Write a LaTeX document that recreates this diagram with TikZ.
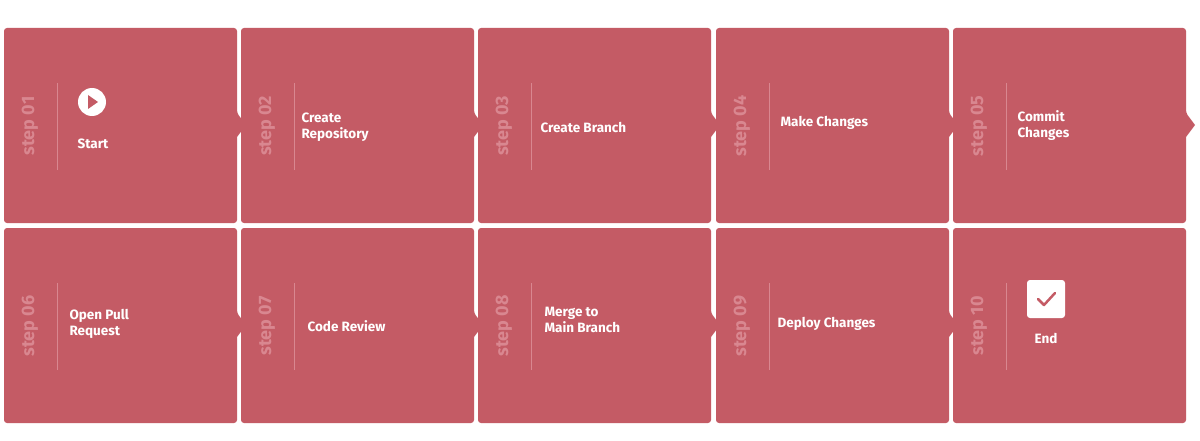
\documentclass[tikz,border=0pt]{standalone}
\usepackage{fontspec}
\setmainfont{Fira Sans}
\definecolor{boxc}{HTML}{C45B65}
\definecolor{stepc}{HTML}{D98790}
\tikzset{x=1pt,y=-1pt,
 lbl/.style={text=white,font=\bfseries\fontsize{13.5}{16}\selectfont,anchor=west,align=left},
 steplbl/.style={text=stepc,font=\bfseries\fontsize{18}{18}\selectfont,rotate=90},
 divl/.style={draw=stepc,line width=1pt}}
\newcommand{\stepbox}[5]{% left, top, notch(1/0), step, name
 \fill[boxc,rounded corners=3pt] (#1,#2) -- (#1+233,#2) -- (#1+233,#2+85)
  \ifnum#3=1 [rounded corners=0pt] -- (#1+242,#2+97) -- (#1+233,#2+109) [rounded corners=3pt]\fi
  -- (#1+233,#2+195) -- (#1,#2+195) -- cycle;
 \node[steplbl] (s#5) at (#1+26,#2+98) {step #4};
 \draw[divl] (#1+53,#2+55) -- (#1+53,#2+142);
}
\begin{document}
\begin{tikzpicture}
\useasboundingbox (0,0) rectangle (1200,441);
\fill[white] (0,0) rectangle (1200,441);
\stepbox{4}{28}{1}{01}{a}
\stepbox{241}{28}{1}{02}{b}
\stepbox{478}{28}{1}{03}{c}
\stepbox{716}{28}{1}{04}{d}
\stepbox{953}{28}{1}{05}{e}
\stepbox{4}{228}{1}{06}{f}
\stepbox{241}{228}{1}{07}{g}
\stepbox{478}{228}{1}{08}{h}
\stepbox{716}{228}{1}{09}{i}
\stepbox{953}{228}{0}{10}{j}
% icons
\fill[white] (92,102) circle (14);
\fill[boxc] (88,95) -- (98,102) -- (88,109) -- cycle;
\node[lbl,anchor=center] (ta) at (93,144) {Start};
\fill[white,rounded corners=3pt] (1027,280) rectangle (1065,318);
\draw[boxc,line width=2.5pt,line cap=round,line join=round] (1038,299) -- (1044,305) -- (1055,293);
\node[lbl,anchor=center] (tj) at (1046,338) {End};
% labels
\node[lbl] (tb) at (298,127) {Create\\Repository};
\node[lbl] (tc) at (537,127) {Create Branch};
\node[lbl] (td) at (777,123) {Make Changes};
\node[lbl] (te) at (1014,126) {Commit\\Changes};
\node[lbl] (tf) at (66,324) {Open Pull\\Request};
\node[lbl] (tg) at (304,326) {Code Review};
\node[lbl] (th) at (541,320) {Merge to\\Main Branch};
\node[lbl] (ti) at (774,324) {Deploy Changes};
\end{tikzpicture}
\end{document}
